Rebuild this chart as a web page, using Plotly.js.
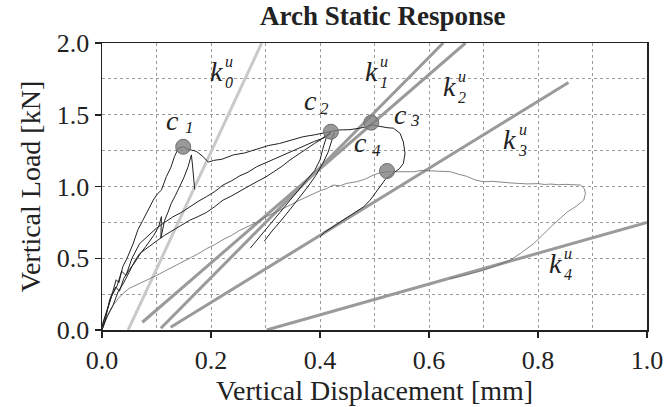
<!DOCTYPE html>
<html>
<head>
<meta charset="utf-8">
<script src="https://cdn.plot.ly/plotly-3.0.1.min.js"></script>
<style>html,body{margin:0;padding:0;background:#fff}#chart{width:667px;height:407px}</style>
</head>
<body>
<div id="chart"></div>
<script>
// ---- data ----
// loading to c1, post-peak branch through c2, c3 and the c4 loop, then unloading
const c1X = [0.0, 0.006, 0.014, 0.020, 0.026, 0.031, 0.038, 0.046, 0.057, 0.066, 0.075, 0.085, 0.094, 0.102, 0.109, 0.118, 0.126, 0.133, 0.140, 0.149, 0.158, 0.173, 0.185, 0.195, 0.205, 0.220, 0.241, 0.262, 0.284, 0.305, 0.326, 0.348, 0.369, 0.390, 0.406, 0.418, 0.434, 0.455, 0.475, 0.486, 0.494, 0.510, 0.523, 0.535, 0.547, 0.553, 0.556, 0.553, 0.546, 0.538, 0.530, 0.520, 0.510, 0.500, 0.492, 0.480, 0.468, 0.455, 0.440, 0.430, 0.418, 0.408, 0.400];
const c1Y = [0.0, 0.07, 0.21, 0.27, 0.35, 0.33, 0.44, 0.50, 0.60, 0.70, 0.765, 0.84, 0.905, 0.95, 0.975, 1.068, 1.13, 1.208, 1.266, 1.277, 1.260, 1.245, 1.210, 1.170, 1.182, 1.190, 1.220, 1.234, 1.262, 1.285, 1.300, 1.325, 1.347, 1.360, 1.375, 1.382, 1.394, 1.396, 1.408, 1.417, 1.430, 1.417, 1.410, 1.406, 1.370, 1.310, 1.231, 1.161, 1.125, 1.103, 1.080, 1.050, 0.998, 0.950, 0.905, 0.858, 0.830, 0.800, 0.760, 0.735, 0.707, 0.680, 0.650];
// reloading branch ending at c2 (upper)
const r2X = [0.0, 0.008, 0.018, 0.028, 0.036, 0.044, 0.055, 0.069, 0.085, 0.100, 0.115, 0.130, 0.146, 0.161, 0.176, 0.192, 0.207, 0.222, 0.238, 0.253, 0.268, 0.284, 0.300, 0.315, 0.330, 0.345, 0.360, 0.375, 0.390, 0.406, 0.420];
const r2Y = [0.02, 0.12, 0.24, 0.31, 0.41, 0.38, 0.50, 0.602, 0.66, 0.71, 0.75, 0.788, 0.82, 0.860, 0.895, 0.930, 0.965, 1.010, 1.040, 1.075, 1.100, 1.138, 1.165, 1.190, 1.215, 1.243, 1.265, 1.290, 1.315, 1.336, 1.370];
// reloading branch ending at c2 (lower)
const r3X = [0.0, 0.010, 0.020, 0.030, 0.040, 0.050, 0.060, 0.069, 0.085, 0.100, 0.115, 0.130, 0.146, 0.161, 0.176, 0.192, 0.207, 0.222, 0.238, 0.253, 0.268, 0.284, 0.300, 0.314, 0.330, 0.345, 0.360, 0.375, 0.390, 0.400, 0.412, 0.420];
const r3Y = [0.0, 0.10, 0.17, 0.27, 0.33, 0.41, 0.48, 0.532, 0.58, 0.62, 0.66, 0.695, 0.73, 0.765, 0.790, 0.820, 0.860, 0.905, 0.935, 0.970, 1.000, 1.033, 1.065, 1.100, 1.140, 1.185, 1.225, 1.260, 1.300, 1.324, 1.355, 1.380];
// reloading branch with the small spike, peak near c1 and sudden drop
const r4X = [0.0, 0.008, 0.016, 0.025, 0.032, 0.040, 0.050, 0.060, 0.070, 0.080, 0.095, 0.104, 0.109, 0.108, 0.115, 0.121, 0.127, 0.135, 0.143, 0.150, 0.158, 0.164, 0.166, 0.168, 0.170];
const r4Y = [0.03, 0.12, 0.22, 0.30, 0.27, 0.36, 0.42, 0.47, 0.53, 0.58, 0.66, 0.72, 0.79, 0.64, 0.765, 0.82, 0.882, 0.94, 0.998, 1.06, 1.138, 1.220, 1.150, 1.060, 0.980];
// unloading branches from c2
const u5X = [0.420, 0.412, 0.405, 0.400, 0.390, 0.376, 0.360, 0.345, 0.330, 0.314, 0.300, 0.284, 0.272];
const u5Y = [1.382, 1.347, 1.260, 1.185, 1.110, 1.045, 0.975, 0.905, 0.835, 0.765, 0.700, 0.625, 0.570];
const u6X = [0.426, 0.422, 0.415, 0.405, 0.392, 0.378, 0.362, 0.345, 0.328, 0.312, 0.298];
const u6Y = [1.375, 1.320, 1.240, 1.160, 1.075, 1.000, 0.920, 0.840, 0.760, 0.690, 0.620];
// large final cycle (thin grey trace)
const gX = [0.0, 0.010, 0.020, 0.030, 0.038, 0.050, 0.069, 0.085, 0.100, 0.115, 0.130, 0.146, 0.161, 0.176, 0.192, 0.207, 0.222, 0.238, 0.253, 0.268, 0.284, 0.299, 0.314, 0.330, 0.345, 0.360, 0.376, 0.390, 0.400, 0.412, 0.424, 0.437, 0.449, 0.467, 0.482, 0.498, 0.510, 0.523, 0.548, 0.572, 0.586, 0.600, 0.621, 0.639, 0.655, 0.670, 0.685, 0.700, 0.716, 0.730, 0.746, 0.762, 0.780, 0.800, 0.812, 0.823, 0.838, 0.850, 0.864, 0.878, 0.885, 0.887, 0.884, 0.870, 0.854, 0.838, 0.823, 0.808, 0.792, 0.770, 0.749, 0.725, 0.700, 0.670, 0.639];
const gY = [0.02, 0.09, 0.17, 0.22, 0.253, 0.29, 0.323, 0.35, 0.38, 0.41, 0.439, 0.468, 0.500, 0.530, 0.567, 0.595, 0.630, 0.660, 0.695, 0.720, 0.750, 0.785, 0.812, 0.840, 0.870, 0.900, 0.928, 0.950, 0.970, 0.985, 1.010, 1.005, 1.022, 1.033, 1.050, 1.080, 1.095, 1.103, 1.105, 1.103, 1.112, 1.110, 1.108, 1.103, 1.085, 1.070, 1.045, 1.033, 1.036, 1.030, 1.026, 1.022, 1.018, 1.020, 1.014, 1.017, 1.012, 1.015, 1.010, 1.010, 0.985, 0.952, 0.905, 0.862, 0.823, 0.772, 0.718, 0.660, 0.602, 0.540, 0.486, 0.450, 0.416, 0.385, 0.358];
// stiffness lines k0..k4 (start and end points)
const kNames = ['k0', 'k1', 'k2', 'k3', 'k4'];
const kX0 = [0.048, 0.108, 0.074, 0.126, 0.302];
const kY0 = [0.0, 0.012, 0.054, 0.019, 0.0];
const kX1 = [0.293, 0.626, 0.667, 0.856, 1.0];
const kY1 = [2.0, 2.0, 2.0, 1.725, 0.75];
// critical points
const cX = [0.149, 0.420, 0.494, 0.523];
const cY = [1.277, 1.382, 1.445, 1.108];
// tick values
const xTicks = [0.0, 0.2, 0.4, 0.6, 0.8, 1.0];
const yTicks = [0.0, 0.5, 1.0, 1.5, 2.0];
const kSub = ['0', '1', '2', '3', '4'];
const cSub = ['1', '2', '3', '4'];

const serif = 'Liberation Serif, Times New Roman, serif';
const traces = [];
kNames.forEach((n, i) => {
  traces.push({type: 'scatter', mode: 'lines', x: [kX0[i], kX1[i]], y: [kY0[i], kY1[i]],
    line: {color: i === 0 ? '#c9c9c9' : '#9a9a9a', width: 3}, hoverinfo: 'skip'});
});
traces.push({type: 'scatter', mode: 'lines', x: gX, y: gY, line: {color: '#6a6a6a', width: 0.8}});
[[c1X, c1Y], [r2X, r2Y], [r3X, r3Y], [r4X, r4Y], [u5X, u5Y], [u6X, u6Y]].forEach(([x, y]) => {
  traces.push({type: 'scatter', mode: 'lines', x: x, y: y, line: {color: '#222', width: 1}});
});
traces.push({type: 'scatter', mode: 'markers', x: cX, y: cY,
  marker: {size: 15, color: 'rgba(128,128,128,0.8)', line: {color: '#6e6e6e', width: 1}}});

// label anchors: k glyph ends at ax, the stacked u / index start there
const kLab = [
  {ax: 0.224, ky: 1.80, sy: 1.80},
  {ax: 0.509, ky: 1.80, sy: 1.80},
  {ax: 0.652, ky: 1.696, sy: 1.695},
  {ax: 0.762, ky: 1.325, sy: 1.322},
  {ax: 0.845, ky: 0.466, sy: 0.459}
];
const cLab = [
  {c: [0.130, 1.462], s: [0.160, 1.408]},
  {c: [0.382, 1.601], s: [0.408, 1.547]},
  {c: [0.547, 1.502], s: [0.574, 1.461]},
  {c: [0.475, 1.305], s: [0.503, 1.252]}
];
const ann = [];
const txt = (x, y, t, size, xa) => ({x: x, y: y, xref: 'x', yref: 'y', text: t, showarrow: false,
  font: {family: serif, size: size, color: '#222'}, xanchor: xa, yanchor: 'middle', align: 'left', borderpad: 0});
kLab.forEach((L, i) => {
  ann.push(txt(L.ax, L.ky, '<i>k</i>', 28, 'right'));
  ann.push(txt(L.ax, L.sy, '<i>u</i><br><i>' + kSub[i] + '</i>', 16, 'left'));
});
cLab.forEach((L, i) => {
  ann.push(txt(L.c[0], L.c[1], '<i>c</i>', 28, 'center'));
  ann.push(txt(L.s[0], L.s[1], '<i>' + cSub[i] + '</i>', 17, 'center'));
});

const axisCommon = {
  showline: true, mirror: true, linecolor: '#222', linewidth: 1.5,
  ticks: 'outside', ticklen: 6, tickwidth: 1.5, tickcolor: '#222',
  showgrid: true, gridcolor: '#9a9a9a', gridwidth: 1, griddash: 'dot',
  zeroline: false, tickfont: {family: serif, size: 26, color: '#222'}, tickformat: '.1f'
};
const layout = {
  width: 667, height: 407,
  margin: {l: 102, r: 20, t: 43, b: 77},
  paper_bgcolor: '#fff', plot_bgcolor: '#fff', showlegend: false,
  title: {text: '<b>Arch Static Response</b>', font: {family: serif, size: 27, color: '#222'},
    x: 0.515, xref: 'paper', y: 0.962, yref: 'container', yanchor: 'middle'},
  xaxis: Object.assign({}, axisCommon, {range: [0, 1], tickvals: xTicks,
    minor: {dtick: 0.1, showgrid: true, gridcolor: '#9a9a9a', gridwidth: 1, griddash: 'dot', ticks: ''},
    title: {text: 'Vertical Displacement [mm]', font: {family: serif, size: 28, color: '#222'}, standoff: 4}}),
  yaxis: Object.assign({}, axisCommon, {range: [0, 2], tickvals: yTicks,
    minor: {dtick: 0.25, showgrid: true, gridcolor: '#9a9a9a', gridwidth: 1, griddash: 'dot', ticks: ''},
    title: {text: 'Vertical Load [kN]', font: {family: serif, size: 28, color: '#222'}, standoff: 8}}),
  annotations: ann
};
Plotly.newPlot('chart', traces, layout, {staticPlot: true, displayModeBar: false});
</script>
</body>
</html>
